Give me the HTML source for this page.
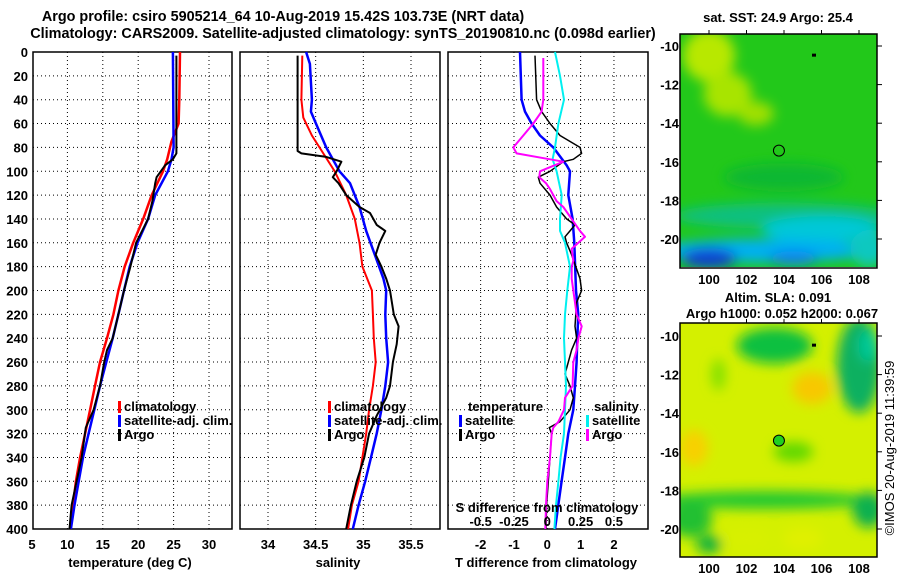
<!DOCTYPE html>
<html><head><meta charset="utf-8"><style>
body{margin:0;background:#fff;width:900px;height:580px;overflow:hidden}
svg text{font-family:"Liberation Sans",Arial,sans-serif;font-weight:bold;font-size:13px;fill:#000}
svg text.ttl{font-size:14.4px}
</style></head><body>
<svg id="c" width="900" height="580">
<defs>
<filter id="bl" x="-50%" y="-50%" width="200%" height="200%"><feGaussianBlur stdDeviation="6"/></filter>
<clipPath id="cm1"><rect x="680" y="34" width="197" height="233"/></clipPath>
<clipPath id="cm2"><rect x="680" y="323" width="197" height="234"/></clipPath>
</defs>
<text class="ttl" x="283" y="21" text-anchor="middle">Argo profile: csiro 5905214_64 10-Aug-2019 15.42S 103.73E (NRT data)</text>
<text class="ttl" x="343" y="38" text-anchor="middle">Climatology: CARS2009. Satellite-adjusted climatology: synTS_20190810.nc (0.098d earlier)</text>
<g id="maps"></g>
<g id="plots"></g>
</svg>
<script>
// ---- data ----
const depthTicks=[0,20,40,60,80,100,120,140,160,180,200,220,240,260,280,300,320,340,360,380,400];
const tempTicks=[5,10,15,20,25,30];
const salTicks=[34,34.5,35,35.5];
const tdiffTicks=[-2,-1,0,1,2];
const sdiffTicks=[-0.5,-0.25,0,0.25,0.5];
const lonTicks=[100,102,104,106,108];
const latTicks=[-10,-12,-14,-16,-18,-20];

const tClimD=[0,40,60,75,90,100,120,140,160,180,200,220,240,260,280,300,320,340,360,380,400];
const tClimV=[25.9,25.8,25.7,24.7,24.1,23.5,21.9,20.7,19.3,18.1,17.2,16.5,15.6,14.6,13.9,13.2,12.5,11.8,11.2,10.8,10.4];
const tSatD=[0,80,90,100,120,140,160,180,200,220,240,260,280,300,320,340,360,380,400];
const tSatV=[24.9,25.0,24.7,24.2,22.4,21.4,19.9,18.8,18.0,17.2,16.4,15.5,14.6,13.8,13.0,12.2,11.6,11.0,10.5];
const tArgoD=[3,85,90,95,105,110,125,140,160,180,200,220,240,250,260,280,300,315,340,360,380,400];
const tArgoV=[25.4,25.4,24.9,23.8,22.6,22.4,22.0,21.4,19.7,18.9,18.0,17.2,16.4,15.6,15.2,14.6,13.7,12.6,12.0,11.3,10.6,10.3];

const sClimD=[3,40,55,70,85,100,120,140,160,180,200,220,240,260,280,300,320,340,360,380,400];
const sClimV=[34.36,34.35,34.37,34.46,34.58,34.70,34.82,34.91,34.96,34.99,35.09,35.10,35.11,35.13,35.10,35.06,35.03,34.99,34.95,34.88,34.84];
const sSatD=[0,10,40,50,65,80,100,110,130,150,170,190,200,220,240,260,280,300,320,340,360,380,400];
const sSatV=[34.40,34.44,34.46,34.45,34.53,34.61,34.75,34.86,34.96,35.03,35.12,35.21,35.24,35.23,35.24,35.26,35.23,35.19,35.14,35.08,35.02,34.95,34.89];
const sArgoD=[3,83,85,88,92,100,105,110,120,130,135,145,150,160,170,180,190,200,220,230,245,260,280,290,305,320,340,360,380,400];
const sArgoV=[34.31,34.31,34.35,34.61,34.77,34.72,34.68,34.74,34.82,34.96,35.07,35.14,35.23,35.17,35.13,35.19,35.24,35.28,35.32,35.37,35.35,35.31,35.28,35.24,35.14,35.06,35.01,34.93,34.87,34.82];

const dTSatD=[0,40,50,60,70,80,95,100,120,140,160,200,220,240,260,280,300,320,340,360,380,400];
const dTSatV=[-0.82,-0.77,-0.67,-0.47,-0.22,0.18,0.58,0.68,0.63,0.76,0.81,0.86,0.93,0.90,0.88,0.83,0.78,0.63,0.53,0.43,0.33,0.23];
const dTArgoD=[3,40,50,60,70,80,85,90,92,100,105,110,120,130,140,145,150,155,160,170,190,200,210,230,240,250,260,270,280,290,300,310,315,320,340,360,380,400];
const dTArgoV=[-0.37,-0.32,-0.17,0.08,0.38,0.98,1.03,0.78,0.48,0.08,-0.27,-0.22,0.08,0.28,0.58,0.83,0.68,0.53,0.58,0.73,0.98,1.03,0.88,0.83,0.88,0.73,0.63,0.53,0.68,0.78,0.68,0.38,0.06,0.13,0.08,0.03,-0.02,-0.04];
const dSSatD=[0,20,40,60,80,90,100,120,140,150,160,180,200,220,240,260,280,300,320,340,360,380,400];
const dSSatV=[0.058,0.095,0.125,0.083,0.058,0.040,0.070,0.108,0.095,0.095,0.133,0.170,0.150,0.133,0.125,0.133,0.140,0.133,0.125,0.100,0.083,0.065,0.053];
const dSArgoD=[5,40,50,60,70,80,85,90,92,100,105,110,115,125,130,150,155,165,175,180,190,200,210,220,230,240,250,260,280,290,300,310,315,320,340,360,380,400];
const dSArgoV=[-0.030,-0.030,-0.043,-0.105,-0.180,-0.255,-0.230,0.020,0.120,-0.055,-0.060,-0.010,0.020,0.070,0.120,0.245,0.283,0.183,0.195,0.183,0.183,0.195,0.208,0.220,0.258,0.233,0.220,0.195,0.190,0.133,0.125,0.083,0.045,0.033,0.020,0.000,-0.010,-0.015];

// ---- helpers ----
const NS='http://www.w3.org/2000/svg';
const plots=document.getElementById('plots');
function mk(tag,at,parent){const e=document.createElementNS(NS,tag);for(const k in at)e.setAttribute(k,at[k]);(parent||plots).appendChild(e);return e;}
const yTop=52,yBot=529;
function yD(d){return yTop+(d/400)*(yBot-yTop);}
function xT(v){return 32+(v-5)*(177/25);}
function xS(v){return 268+(v-34)*(143/1.5);}
function xDT(v){return 547.3+v*33.33;}
function xDS(v){return 547.3+v*133.3;}
function line(xs,ds,vals,fx,col,w,name){
  const pts=ds.map((d,i)=>fx(vals[i]).toFixed(1)+','+yD(d).toFixed(1)).join(' ');
  const p=mk('polyline',{points:pts,fill:'none',stroke:col,'stroke-width':w,'stroke-linejoin':'round'});
  
  
}
function panel(x0,x1,xticks,fx,fmt,name){
  const g=mk('g',{});
  
  
  depthTicks.forEach(d=>{const y=yD(d);mk('line',{x1:x0,x2:x1,y1:y,y2:y,stroke:'#000','stroke-width':1,'stroke-dasharray':'1,3'},g);});
  xticks.forEach(v=>{const x=fx(v);if(x>x0+1&&x<x1-1)mk('line',{x1:x,x2:x,y1:yTop,y2:yBot,stroke:'#000','stroke-width':1,'stroke-dasharray':'1,3'},g);
    const t=mk('text',{x:x,y:549,'text-anchor':'middle'},g);t.textContent=fmt(v);
    
    });
  mk('rect',{x:x0,y:yTop,width:x1-x0,height:yBot-yTop,fill:'none',stroke:'#000','stroke-width':1.5},g);
  return g;
}
depthTicks.forEach(d=>{const t=mk('text',{x:28,y:yD(d)+5,'text-anchor':'end'});t.textContent=d;
  
  });

panel(33,232,tempTicks,xT,v=>v,'temperature-panel');
panel(240,440,salTicks,xS,v=>v,'salinity-panel');
panel(448,648,tdiffTicks,xDT,v=>v,'difference-panel');

line(0,tClimD,tClimV,xT,'#f00',2.5,'temp-climatology-line');
line(0,tSatD,tSatV,xT,'#00f',2.5,'temp-satellite-line');
line(0,tArgoD,tArgoV,xT,'#000',2,'temp-argo-line');
line(0,sClimD,sClimV,xS,'#f00',2,'sal-climatology-line');
line(0,sSatD,sSatV,xS,'#00f',2.5,'sal-satellite-line');
line(0,sArgoD,sArgoV,xS,'#000',2,'sal-argo-line');
line(0,dTSatD,dTSatV,xDT,'#00f',2.5,'tdiff-satellite-line');
line(0,dTArgoD,dTArgoV,xDT,'#000',1.5,'tdiff-argo-line');
line(0,dSSatD,dSSatV,xDS,'#00f0f0',2,'sdiff-satellite-line');
line(0,dSArgoD,dSArgoV,xDS,'#f0f',2,'sdiff-argo-line');

sdiffTicks.forEach(v=>{const t=mk('text',{x:xDS(v),y:526,'text-anchor':'middle'});t.textContent=v;
  
  });
function txt(x,y,s,name,anchor){const t=mk('text',{x:x,y:y,'text-anchor':anchor||'start'});t.textContent=s;
  
  return t;}
txt(547,512,'S difference from climatology','sdiff-axis-title','middle');
txt(130,567,'temperature (deg C)','temperature-axis-title','middle');
txt(338,567,'salinity','salinity-axis-title','middle');
txt(546,567,'T difference from climatology','tdiff-axis-title','middle');
function leg(x,y,col,s,name){mk('rect',{x:x,y:y-10,width:3,height:12,fill:col});txt(x+6,y,s,name);}
leg(118,411,'#f00','climatology','legend-climatology');
leg(118,425,'#00f','satellite-adj. clim.','legend-satellite');
leg(118,439,'#000','Argo','legend-argo');
leg(328,411,'#f00','climatology','legend-sal-climatology');
leg(328,425,'#00f','satellite-adj. clim.','legend-sal-satellite');
leg(328,439,'#000','Argo','legend-sal-argo');
txt(468,411,'temperature','legend-temperature-header');
leg(459,425,'#00f','satellite','legend-tdiff-satellite');
leg(459,439,'#000','Argo','legend-tdiff-argo');
txt(594,411,'salinity','legend-salinity-header');
leg(586,425,'#00f0f0','satellite','legend-sdiff-satellite');
leg(586,439,'#f0f','Argo','legend-sdiff-argo');

// ---- maps ----
const maps=document.getElementById('maps');
function mx(lon){return 709+(lon-100)*18.75;}
function my(top,lat){return top+(-10-lat)*19.3;}
function mapFrame(y0,latTop,clip,blobs,base,name,circFill){
  const g=mk('g',{},maps);
  
  
  const inner=mk('g',{'clip-path':'url(#'+clip+')'},g);
  mk('rect',{x:680,y:y0,width:197,height:234,fill:base},inner);
  const bg=mk('g',{filter:'url(#bl)'},inner);
  blobs.forEach(b=>mk('ellipse',{cx:mx(b[0]),cy:my(latTop,b[1]),rx:b[2],ry:b[3],fill:b[4]},bg));
  mk('rect',{x:680,y:y0,width:197,height:234,fill:'none',stroke:'#000','stroke-width':1.5},g);
  lonTicks.forEach(v=>{const x=mx(v);mk('line',{x1:x,x2:x,y1:y0-4,y2:y0,stroke:'#000'},g);
    const t=mk('text',{x:x,y:y0+250,'text-anchor':'middle'},g);t.textContent=v;
    
    });
  latTicks.forEach(v=>{const y=my(latTop,v);mk('line',{x1:877,x2:882,y1:y,y2:y,stroke:'#000'},g);
    const t=mk('text',{x:679,y:y+5,'text-anchor':'end'},g);t.textContent=v;
    
    });
  const c=mk('circle',{cx:mx(103.73),cy:my(latTop,-15.42),r:5.5,fill:circFill,stroke:'#000','stroke-width':1},g);
  
  
  mk('rect',{x:mx(105.6)-2,y:my(latTop,-10.5)-2,width:4,height:3,fill:'#000'},g);
}
mapFrame(34,46,'cm1',[
  [100,-10.5,26,26,'#b8e800'],[101,-12.5,24,22,'#a8e400'],[102.5,-13.5,18,12,'#a0e000'],
  [104,-16.8,60,14,'#10b830'],[104,-18.8,110,13,'#10c080'],[106,-19.5,60,13,'#00c8d8'],
  [103,-20.6,110,12,'#00b0f0'],[100,-21,28,10,'#1040d0'],[104.5,-21,25,7,'#1080f0'],[108.5,-20.5,18,18,'#10c8c0']
],'#22c81a','sst-map','none');
txt(778,22,'sat. SST: 24.9 Argo: 25.4','sst-map-title','middle');

mapFrame(323,336,'cm2',[
  [103.5,-10.5,38,18,'#10c040'],[108,-11.5,22,48,'#10b060'],[108.5,-10.5,10,16,'#00c898'],
  [105.5,-12.7,20,16,'#f8c800'],[99.2,-15.8,14,18,'#f8d000'],[100.5,-12,7,16,'#80e000'],
  [104.5,-16,20,10,'#60d800'],[103,-18.5,110,9,'#20c830'],[99,-19.5,22,18,'#20c030'],
  [100,-20.8,13,9,'#10b040'],[108.5,-19,16,18,'#10b050'],[105,-20.5,20,11,'#e0f000'],[102,-20.5,24,9,'#d8f000']
],'#d4f000','sla-map','#20d020');
txt(778,302,'Altim. SLA: 0.091','sla-map-title-1','middle');
txt(782,318,'Argo h1000: 0.052 h2000: 0.067','sla-map-title-2','middle');
const cr=txt(0,0,'©IMOS 20-Aug-2019 11:39:59','copyright-text','middle');
cr.setAttribute('transform','translate(894,448) rotate(-90)');
cr.setAttribute('style','font-weight:normal;font-size:13px');
</script>
</body></html>
